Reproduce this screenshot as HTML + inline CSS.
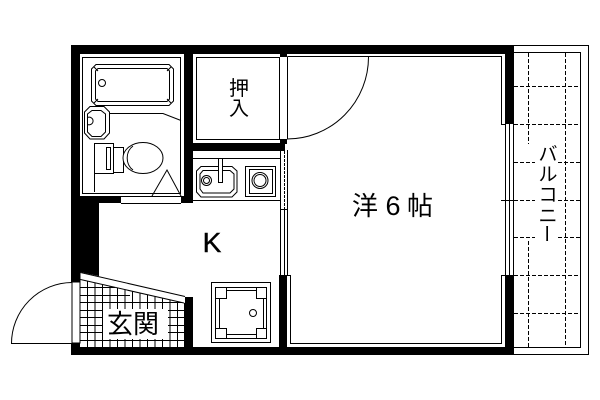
<!DOCTYPE html>
<html><head><meta charset="utf-8"><style>
html,body{margin:0;padding:0;background:#fff}
svg{display:block}
text{font-family:"Liberation Sans","Noto Sans CJK JP",sans-serif;fill:#000}
</style></head><body>
<svg width="600" height="400" viewBox="0 0 600 400" xmlns="http://www.w3.org/2000/svg">
<rect width="600" height="400" fill="#fff"/>
<!-- balcony -->
<g fill="none" stroke="#000" stroke-width="1" shape-rendering="crispEdges">
<path d="M514 45.5H588.5V354.5H514"/>
<path d="M514 52.5H580.5V347.5H514"/>
<g stroke-dasharray="4 2">
<path d="M528.5 53V144M528.5 241V347M565.5 53V347"/>
<path d="M514 86.5H580M514 124.5H580M514 162.5H535M558 162.5H580M514 200.5H535M558 200.5H580M514 237.5H535M558 237.5H580M514 275.5H580M514 313.5H580"/>
</g>
</g>
<!-- walls -->
<g fill="#000">
<rect x="71" y="45" width="443" height="9"/>
<rect x="71" y="45" width="9" height="237"/>
<path d="M71 196H193V203H99V276L71 270Z"/>
<rect x="184" y="45" width="9" height="158"/>
<rect x="193" y="143" width="92" height="8"/>
<rect x="280" y="53" width="7" height="4"/>
<rect x="280" y="139" width="7" height="5"/>
<rect x="505" y="45" width="9" height="79"/>
<rect x="505" y="275" width="9" height="80"/>
<rect x="71" y="347" width="443" height="8"/>
<rect x="71" y="343" width="9" height="12"/>
<rect x="184" y="297" width="9" height="55"/>
<rect x="279" y="275" width="8" height="75"/>
<path d="M80 200H99V276L80 272Z"/>
</g>
<!-- bath window -->
<rect x="121" y="197" width="60" height="6" fill="#fff"/>
<g fill="none" stroke="#000" stroke-width="1" shape-rendering="crispEdges">
<path d="M121 203.500H181"/>
<!-- bath room -->
<rect x="82.5" y="57.5" width="98" height="136"/>
<!-- closet -->
<rect x="196.5" y="57.5" width="83" height="82"/>
<path d="M287.5 56.5H501.5V124.5H505M287.5 56.5V139"/>
<path d="M505 275.5H501.5V343.5H290.5V275.5H287"/>
<!-- window right -->
<path d="M505.5 124V275M509.5 124V275M513.5 124V275"/>
<path d="M501 200.5H514"/>
<!-- sliding door -->
<path d="M280.5 150V275M287.5 150V275M284.5 209V275M280 209.5H287"/>
<path d="M284.5 151V209" stroke-dasharray="3 1"/>
<!-- kitchen counter -->
<path d="M193 158.5H280M193 200.5H280"/>
<!-- faucet -->
<rect x="218.5" y="158.5" width="4" height="24"/>
<!-- stove -->
<rect x="245.5" y="166.5" width="30" height="30"/>
<rect x="249.5" y="169.5" width="23" height="24"/>
<!-- washer -->
<rect x="211.5" y="282.5" width="59" height="60"/>
<rect x="215.5" y="287.5" width="51" height="51"/>
<rect x="219.5" y="290.5" width="44" height="44"/>
<rect x="215.5" y="287.5" width="11" height="11" fill="#fff"/>
<rect x="256.5" y="287.5" width="10" height="11" fill="#fff"/>
<rect x="215.5" y="328.5" width="11" height="10" fill="#fff"/>
<rect x="256.5" y="328.5" width="10" height="10" fill="#fff"/>
<!-- toilet -->
<path d="M94.5 143V192"/>
<rect x="94.5" y="143.5" width="19" height="30"/>
<rect x="106.5" y="147.5" width="4" height="22"/>
<rect x="113.5" y="147.5" width="10" height="25"/>
</g>
<rect x="72" y="282" width="8" height="61" fill="#fff" stroke="#000" stroke-width="1"/>
<g fill="none" stroke="#000" stroke-width="1">
<!-- door arcs -->
<path d="M368.5 57A81.5 82 0 0 1 287 139"/>
<path d="M72 282.5A61 61 0 0 0 11.5 343.5H72"/>
<!-- bath tub -->
<path d="M96 64.5H169L173.5 69V101L169 105.5H96L91.5 101V69Z"/>
<path d="M98 68.5H167L169.5 71V99L167 101.5H98L95.5 99V71Z"/>
<path d="M94 67L98 71M171 67L167 71M94 103L98 99M171 103L167 99"/>
<circle cx="102" cy="83" r="3.5"/>
<!-- basin -->
<path d="M90 106.5H104L109.500 112V133L104 139H90L84.5 133V112Z" fill="#fff"/>
<path d="M92 110.5H101L105.5 114V132L101 136.500H92L87.5 132V114Z"/>
<path d="M87.5 117.5A4 3.8 0 1 1 87.5 124.5"/>
<path d="M109 113.5H163L181 120.5"/>
<!-- toilet bowl -->
<ellipse cx="143" cy="158" rx="20" ry="15.5" fill="#fff"/>
<path d="M133 146A12 14 0 0 0 133 170"/>
<!-- triangle -->
<path d="M152 196L167 170L181 196"/>
<!-- sink -->
<path d="M201 166.5H232L237 171V192L232 197H201L196.500 192V171Z"/>
<path d="M203 170.500H230L234 174V189L230 193H203L200 189V174Z"/>
<circle cx="206.500" cy="180.500" r="5"/>
<circle cx="206.500" cy="180.500" r="3"/>
<circle cx="260" cy="180.500" r="8"/>
<circle cx="260" cy="180.500" r="6"/>
<rect x="218.500" y="158.500" width="4" height="24" fill="#fff"/>
<circle cx="253" cy="313" r="3.500"/>
</g>
<!-- genkan tiles -->
<g fill="none" stroke="#000" stroke-width="1" shape-rendering="crispEdges">
<path d="M87.500 281V347M95 283V347M102.500 285V347M110 286V309M110 339V347M117.500 288V309M117.500 339V347M125 290V309M125 339V347M132.500 291V309M132.500 339V347M140 293V309M140 339V347M147.500 295V309M147.500 339V347M155 296V309M155 339V347M162.500 298V309M162.500 339V347M170 299V347M177.500 301V347"/>
<path d="M80 287.500H115M80 295.500H130M80 302.500H184M80 310.500H102M168 310.500H184M80 317.500H102M168 317.500H184M80 325.500H102M168 325.500H184M80 332.500H102M168 332.500H184M80 340.500H184"/>
</g>
<path d="M80 272L185 296.500V303L80 279Z" fill="#fff"/>
<path d="M80.500 272.500L185 296.500M80.500 279.500L184 303" fill="none" stroke="#000" stroke-width="1"/>
<path d="M80 272V282" stroke="#000" stroke-width="1" fill="none"/>
<!-- labels -->
<text x="239" y="95" font-size="20" text-anchor="middle">押</text>
<text x="239" y="115" font-size="20" text-anchor="middle">入</text>
<text x="352" y="215" font-size="26">洋</text>
<text x="393" y="215" font-size="27" text-anchor="middle">6</text>
<text x="407" y="215" font-size="26">帖</text>
<text x="212" y="252" font-size="28" text-anchor="middle" stroke="#000" stroke-width="0.4">K</text>
<text x="107" y="333" font-size="26">玄関</text>
<g font-size="19" text-anchor="middle">
<text x="548" y="160.500">バ</text>
<text x="548" y="180.500">ル</text>
<text x="548" y="201">コ</text>
<text x="548" y="222">ニ</text>
<text x="547" y="240.500" transform="rotate(90 547 233.500)">ー</text>
</g>
</svg>
</body></html>
